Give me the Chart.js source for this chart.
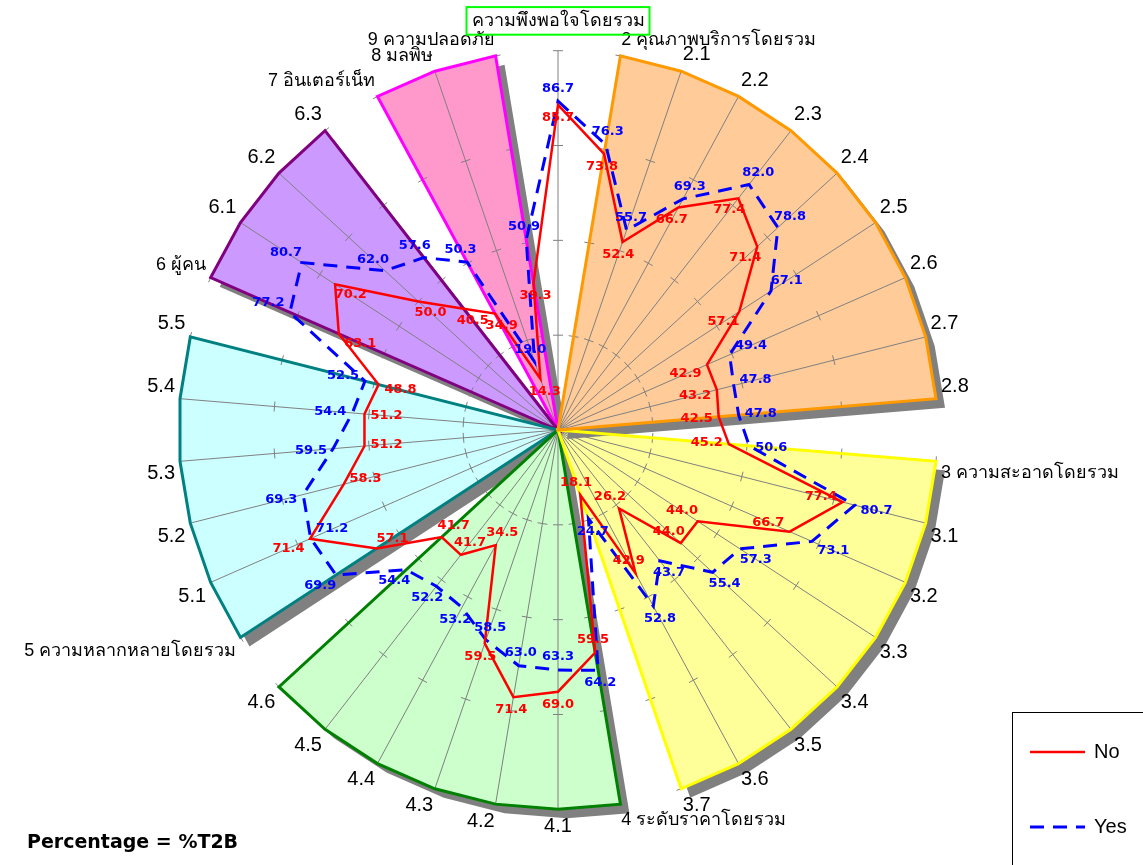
<!DOCTYPE html>
<html>
<head>
<meta charset="utf-8">
<script src="https://cdn.jsdelivr.net/npm/chart.js@4.4.1/dist/chart.umd.min.js"></script>
<style>
  html, body { margin: 0; padding: 0; background: #fff; }
  #wrap { position: relative; width: 1143px; height: 865px; }
</style>
</head>
<body>
<div id="wrap"><canvas id="radarChart"></canvas></div>
<script>
// spokes, clockwise from the top
const categories = [
  'ความพึงพอใจโดยรวม',
  '2 คุณภาพบริการโดยรวม', '2.1', '2.2', '2.3', '2.4', '2.5', '2.6', '2.7', '2.8',
  '3 ความสะอาดโดยรวม', '3.1', '3.2', '3.3', '3.4', '3.5', '3.6', '3.7',
  '4 ระดับราคาโดยรวม', '4.1', '4.2', '4.3', '4.4', '4.5', '4.6',
  '5 ความหลากหลายโดยรวม', '5.1', '5.2', '5.3', '5.4', '5.5',
  '6 ผู้คน', '6.1', '6.2', '6.3',
  '7 อินเตอร์เน็ท', '8 มลพิษ', '9 ความปลอดภัย'
];

const noValues = [85.7, 73.8, 52.4, 66.7, 77.4, 71.4, 57.1, 42.9, 43.2, 42.5,
  45.2, 77.4, 66.7, 44.0, 44.0, 26.2, 42.9, 18.1,
  59.5, 69.0, 71.4, 59.5, 34.5, 41.7, 41.7,
  57.1, 71.4, 58.3, 51.2, 51.2, 48.8,
  63.1, 70.2, 50.0, 40.5,
  34.9, 14.3, 39.3];

const yesValues = [86.7, 76.3, 55.7, 69.3, 82.0, 78.8, 67.1, 49.4, 47.8, 47.8,
  50.6, 80.7, 73.1, 57.3, 55.4, 43.7, 52.8, 24.7,
  64.2, 63.3, 63.0, 58.5, 53.2, 52.2, 54.4,
  69.9, 71.2, 69.3, 59.5, 54.4, 52.5,
  77.2, 80.7, 62.0, 57.6,
  50.3, 19.0, 50.9];

// first and last spoke of each coloured section
const sectionStart = [1, 10, 18, 25, 31, 35];
const sectionEnd = [9, 17, 24, 30, 34, 37];

const scaleMax = 100;

const sectionFill = ['#FFCC99', '#FFFF99', '#CCFFCC', '#CCFFFF', '#CC99FF', '#FF99CC'];
const sectionBorder = ['#FF9900', '#FFFF00', '#008000', '#008080', '#800080', '#FF00FF'];

const labelFont = "'Liberation Sans', 'DejaVu Sans', sans-serif";

let sectionSets = sectionStart.map((s, k) => ({
  label: 'section' + k,
  data: categories.map((c, i) => (i >= s && i <= sectionEnd[k]) ? scaleMax : 0),
  backgroundColor: sectionFill[k],
  borderColor: sectionBorder[k],
  borderWidth: 3,
  fill: true,
  pointRadius: 0,
  pointHitRadius: 0
}));

function drawSpokes(chart) {
  const scale = chart.scales.r;
  const ctx = chart.ctx;
  const outer = scale.getDistanceFromCenterForValue(scale.max);
  const tickVals = scale.ticks.map(t => t.value).filter(v => v > 0);
  ctx.save();
  ctx.strokeStyle = '#808080';
  ctx.lineWidth = 1;
  categories.forEach((c, i) => {
    const end = scale.getPointPosition(i, outer);
    ctx.beginPath();
    ctx.moveTo(scale.xCenter, scale.yCenter);
    ctx.lineTo(end.x, end.y);
    ctx.stroke();
    const px = -Math.sin(end.angle), py = Math.cos(end.angle);
    tickVals.forEach(v => {
      const p = scale.getPointPosition(i, scale.getDistanceFromCenterForValue(v));
      ctx.beginPath();
      ctx.moveTo(p.x - px * 5, p.y - py * 5);
      ctx.lineTo(p.x + px * 5, p.y + py * 5);
      ctx.stroke();
    });
  });
  ctx.restore();
}

// grey drop shadow under the section fills, then spokes on top of them
const sectionShadow = {
  id: 'sectionShadow',
  beforeDraw(chart) {
    const ctx = chart.ctx;
    ctx.save();
    ctx.shadowColor = '#808080';
    ctx.shadowOffsetX = 9;
    ctx.shadowOffsetY = 9;
    ctx.shadowBlur = 0;
  },
  beforeDatasetsDraw(chart) {
    chart.ctx.restore();
    drawSpokes(chart);
  }
};

// value labels: the higher of the two values is labelled outside its point,
// the lower one inside, along the spoke direction
const valueLabels = {
  id: 'valueLabels',
  afterDatasetsDraw(chart) {
    const ctx = chart.ctx;
    const scale = chart.scales.r;
    const sets = chart.data.datasets;
    ctx.save();
    ctx.font = "bold 13px 'DejaVu Sans', sans-serif";
    ctx.textBaseline = 'middle';
    ctx.textAlign = 'center';
    [0, 1].forEach(di => {
      const ds = sets[di];
      const other = sets[1 - di].data;
      const meta = chart.getDatasetMeta(di);
      ctx.fillStyle = ds.borderColor;
      meta.data.forEach((pt, i) => {
        const txt = ds.data[i].toFixed(1);
        const w = ctx.measureText(txt).width;
        const dir = scale.getPointPosition(i, 1);
        const ux = Math.cos(dir.angle), uy = Math.sin(dir.angle);
        const reach = Math.min(
          Math.abs(ux) > 1e-3 ? (w / 2) / Math.abs(ux) : 1e9,
          Math.abs(uy) > 1e-3 ? 7 / Math.abs(uy) : 1e9
        ) + 6;
        const sign = ds.data[i] >= other[i] ? 1 : -1;
        ctx.fillText(txt, pt.x + sign * ux * reach, pt.y + sign * uy * reach);
      });
    });
    ctx.restore();
  }
};

const extras = {
  id: 'extras',
  afterDraw(chart) {
    const ctx = chart.ctx;
    const scale = chart.scales.r;
    ctx.save();
    // box round the top label
    const it = scale._pointLabelItems[0];
    ctx.strokeStyle = '#00FF00';
    ctx.lineWidth = 2;
    ctx.strokeRect(it.left - 5, it.top - 3, it.right - it.left + 10, it.bottom - it.top + 6);

    // legend
    ctx.strokeStyle = '#000';
    ctx.lineWidth = 1;
    ctx.strokeRect(1012.5, 712.5, 140, 160);
    ctx.font = "20px " + labelFont;
    ctx.textBaseline = 'middle';
    ctx.textAlign = 'left';
    [0, 1].forEach(k => {
      const ds = chart.data.datasets[k];
      const y = k === 0 ? 752 : 827;
      ctx.strokeStyle = ds.borderColor;
      ctx.lineWidth = ds.borderWidth;
      ctx.setLineDash(ds.borderDash || []);
      ctx.beginPath();
      ctx.moveTo(1030, y);
      ctx.lineTo(1085, y);
      ctx.stroke();
      ctx.setLineDash([]);
      ctx.fillStyle = '#000';
      ctx.fillText(ds.label, 1094, y);
    });

    ctx.font = "bold 19px 'DejaVu Sans', sans-serif";
    ctx.fillStyle = '#000';
    ctx.fillText('Percentage = %T2B', 27, 843);
    ctx.restore();
  }
};

const ctx = document.getElementById('radarChart').getContext('2d');
const myRadar = new Chart(ctx, {
  type: 'radar',
  data: {
    labels: categories,
    datasets: [
      {
        label: 'No',
        data: noValues,
        borderColor: '#FF0000',
        borderWidth: 2.5,
        fill: false,
        pointRadius: 0
      },
      {
        label: 'Yes',
        data: yesValues,
        borderColor: '#0000FF',
        borderWidth: 3,
        borderDash: [14, 9],
        fill: false,
        pointRadius: 0
      },
      ...sectionSets
    ]
  },
  options: {
    responsive: true,
    maintainAspectRatio: false,
    animation: false,
    layout: { padding: { left: 14, right: 8, top: 0, bottom: 15 } },
    scales: {
      r: {
        min: 0,
        max: scaleMax,
        ticks: { display: false, stepSize: 25 },
        grid: { display: false, z: 1 },
        angleLines: { display: false },
        pointLabels: {
          color: '#000',
          font: (c) => ({ family: labelFont, size: /^[\d.]+$/.test(categories[c.index]) ? 20 : 18 }),
          padding: (c) => c.index === 0 ? 19 : 5
        }
      }
    },
    plugins: {
      legend: { display: false },
      tooltip: { enabled: false },
      filler: { drawTime: 'beforeDatasetsDraw' }
    }
  },
  plugins: [sectionShadow, valueLabels, extras]
});
</script>
</body>
</html>
